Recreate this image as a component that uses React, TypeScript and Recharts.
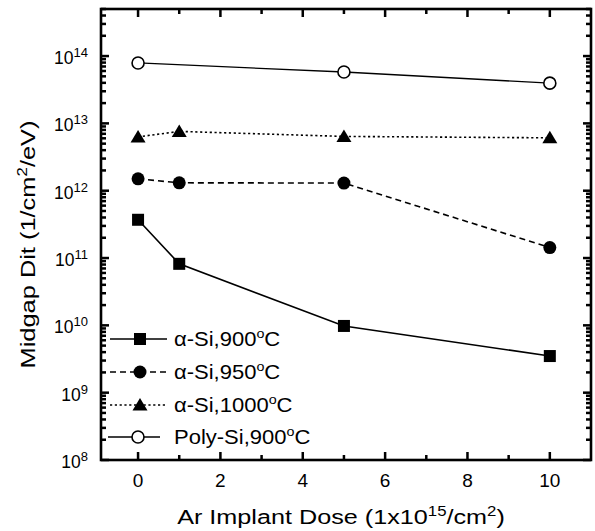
import * as React from "react";
import { LineChart, Line, XAxis, YAxis, Legend } from "recharts";

// implant dose, 1e15/cm2
const doses = [0, 1, 5, 10];
// midgap Dit, 1/cm2/eV
const aSi900 = [3.7e11, 8.2e10, 9.8e9, 3.5e9];
const aSi950 = [1.5e12, 1.31e12, 1.3e12, 1.43e11];
const aSi1000 = [6.3e12, 7.6e12, 6.4e12, 6.1e12];
const poly900 = [7.9e13, null, 5.8e13, 3.96e13];

const seriesNames = ["α-Si,900", "α-Si,950", "α-Si,1000", "Poly-Si,900"];

const xMajor = [0, 2, 4, 6, 8, 10];
const xMinor = [1, 3, 5, 7, 9];
const decades = [8, 9, 10, 11, 12, 13, 14];
const X_DOMAIN: [number, number] = [-0.9, 11];
const Y_DOMAIN: [number, number] = [1e8, 5e14];

const W = 595;
const H = 531;
const MARGIN = { top: 9, right: 4, bottom: 0, left: 0 };
const Y_AXIS_W = 101;
const X_AXIS_H = 71;
const PLOT_L = MARGIN.left + Y_AXIS_W;
const PLOT_R = W - MARGIN.right;
const PLOT_T = MARGIN.top;
const PLOT_B = H - MARGIN.bottom - X_AXIS_H;

const FONT = "'Liberation Sans', Arial, Helvetica, sans-serif";

const data = doses.map((d, i) => ({
    dose: d,
    aSi900: aSi900[i],
    aSi950: aSi950[i],
    aSi1000: aSi1000[i],
    poly900: poly900[i],
}));

const xTicks = [...xMajor, ...xMinor].sort((a, b) => a - b);
const yTicks: number[] = [];
decades.forEach((e) => {
    for (let m = 1; m <= 9; m++) {
        const v = m * Math.pow(10, e);
        if (v <= Y_DOMAIN[1]) yTicks.push(v);
    }
});
const isDecade = (v: number) => Math.abs(Math.log10(v) - Math.round(Math.log10(v))) < 1e-9;

// ticks point inward, mirrored on the top / right edges
function XTick(props: any) {
    const { x, payload } = props;
    const major = xMajor.includes(payload.value);
    const len = major ? 8 : 5;
    return (
        <g>
            <rect x={x - 1.25} y={PLOT_B - len} width={2.5} height={len} fill="#000" />
            <rect x={x - 1.25} y={PLOT_T} width={2.5} height={len} fill="#000" />
            {major && (
                <text x={x} y={487} textAnchor="middle" fontSize={19} fontFamily={FONT} fill="#000">
                    {payload.value}
                </text>
            )}
        </g>
    );
}

function YTick(props: any) {
    const { y, payload } = props;
    const major = isDecade(payload.value);
    const len = major ? 8 : 5;
    const exp = Math.round(Math.log10(payload.value));
    return (
        <g>
            <rect x={PLOT_L} y={y - 1.25} width={len} height={2.5} fill="#000" />
            <rect x={PLOT_R - len} y={y - 1.25} width={len} height={2.5} fill="#000" />
            {major && (
                <text x={88} y={y + 8} textAnchor="end" fontSize={17.5} fontFamily={FONT} fill="#000">
                    10
                    <tspan dy={-7} fontSize={13}>{exp}</tspan>
                </text>
            )}
        </g>
    );
}

function Marker({ kind, cx, cy }: { kind: number; cx: number; cy: number }) {
    if (kind === 0) return <rect x={cx - 6} y={cy - 6} width={12} height={12} fill="#000" />;
    if (kind === 1) return <circle cx={cx} cy={cy} r={6.5} fill="#000" />;
    if (kind === 2)
        return <polygon points={`${cx},${cy - 7} ${cx + 7.5},${cy + 5.5} ${cx - 7.5},${cy + 5.5}`} fill="#000" />;
    return <circle cx={cx} cy={cy} r={6} fill="#fff" stroke="#000" strokeWidth={1.6} />;
}

const makeDot = (kind: number) => (p: any) => {
    if (p.cx == null || p.cy == null || p.value == null) return <g key={`d${kind}-${p.index}`} />;
    return (
        <g key={`d${kind}-${p.index}`}>
            <Marker kind={kind} cx={p.cx} cy={p.cy} />
        </g>
    );
};

const dashes = [undefined, "6 4", "2.2 2.6", undefined];

function LegendBox() {
    const rows = [19, 52, 85, 117];
    return (
        <svg width={220} height={140} style={{ display: "block" }}>
            {seriesNames.map((name, i) => (
                <g key={name}>
                    <line x1={i === 3 ? 3 : 5} x2={i === 3 ? 55 : 62} y1={rows[i]} y2={rows[i]}
                          stroke="#000" strokeWidth={1.5} strokeDasharray={dashes[i]} />
                    <Marker kind={i} cx={i === 3 ? 33 : 35} cy={rows[i]} />
                    <text transform={`translate(69,${rows[i] + 7}) scale(1.1,1)`} fontSize={20}
                          fontFamily={FONT} fill="#000">
                        {name}
                        <tspan dy={-8} fontSize={13}>o</tspan>
                        <tspan dy={8}>C</tspan>
                    </text>
                </g>
            ))}
        </svg>
    );
}

export default function App() {
    return (
        <div style={{ position: "absolute", left: 0, top: 0, width: W, height: H, background: "#fff" }}>
            <LineChart width={W} height={H} data={data} margin={MARGIN}>
                <XAxis dataKey="dose" type="number" domain={X_DOMAIN} ticks={xTicks} interval={0}
                       allowDataOverflow tickLine={false} axisLine={false} height={X_AXIS_H} tick={<XTick />} />
                <YAxis type="number" scale="log" domain={Y_DOMAIN} ticks={yTicks} interval={0}
                       allowDataOverflow tickLine={false} axisLine={false} width={Y_AXIS_W} tick={<YTick />} />
                <Line dataKey="aSi900" stroke="#000" strokeWidth={1.6} dot={makeDot(0)} isAnimationActive={false} />
                <Line dataKey="aSi950" stroke="#000" strokeWidth={1.6} strokeDasharray={dashes[1]}
                      dot={makeDot(1)} isAnimationActive={false} />
                <Line dataKey="aSi1000" stroke="#000" strokeWidth={1.6} strokeDasharray={dashes[2]}
                      dot={makeDot(2)} isAnimationActive={false} />
                <Line dataKey="poly900" stroke="#000" strokeWidth={1.3} connectNulls
                      dot={makeDot(3)} isAnimationActive={false} />
                <Legend layout="vertical" align="center" verticalAlign="middle" content={<LegendBox />}
                        wrapperStyle={{ position: "absolute", left: 105, top: 320, width: 220, height: 140 }} />
                <rect x={PLOT_L} y={PLOT_T} width={PLOT_R - PLOT_L} height={PLOT_B - PLOT_T}
                      fill="none" stroke="#000" strokeWidth={2.6} />
                <text transform={`translate(${(PLOT_L + PLOT_R) / 2 - 5},524) scale(1.2,1)`} textAnchor="middle"
                      fontSize={21} fontFamily={FONT} fill="#000">
                    Ar Implant Dose (1x10<tspan dy={-8} fontSize={14}>15</tspan>
                    <tspan dy={8}>/cm</tspan><tspan dy={-8} fontSize={14}>2</tspan><tspan dy={8}>)</tspan>
                </text>
                <text transform={`translate(35,${(PLOT_T + PLOT_B) / 2 + 10}) rotate(-90) scale(1.21,1)`}
                      textAnchor="middle" fontSize={21} fontFamily={FONT} fill="#000">
                    Midgap Dit (1/cm<tspan dy={-8} fontSize={14}>2</tspan><tspan dy={8}>/eV)</tspan>
                </text>
            </LineChart>
        </div>
    );
}
